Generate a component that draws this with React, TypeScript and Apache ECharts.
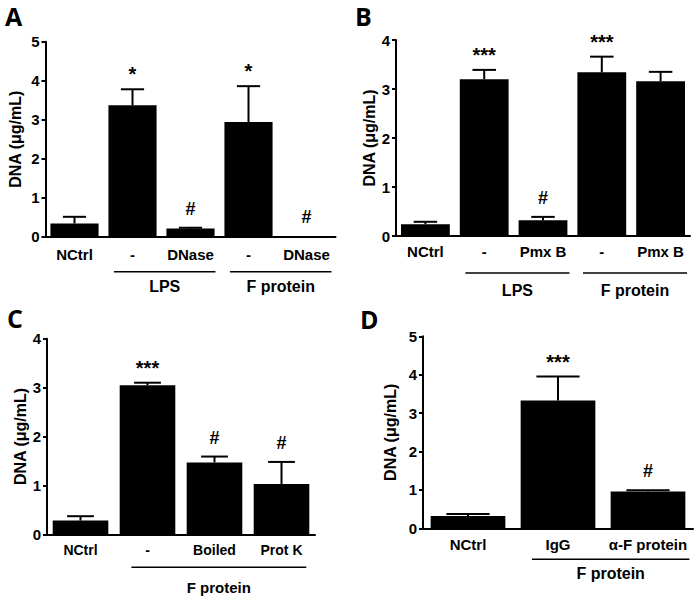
import React, { useEffect, useRef } from "react";
import * as echarts from "echarts";

// ---------- Data ----------
// Panel A
const catsA = ["NCtrl", "-", "DNase", "-", "DNase"];
const meanA = [0.34, 3.37, 0.21, 2.94, 0.02];
const upperA = [0.51, 3.78, 0.23, 3.86, 0.02];
const sigA = ["", "*", "#", "*", "#"];
const groupNamesA = ["LPS", "F protein"];
const groupSpansA = [[1, 2], [3, 4]];
const yMaxA = 5;

// Panel B
const catsB = ["NCtrl", "-", "Pmx B", "-", "Pmx B"];
const meanB = [0.24, 3.2, 0.32, 3.34, 3.16];
const upperB = [0.29, 3.39, 0.39, 3.66, 3.35];
const sigB = ["", "***", "#", "***", ""];
const groupNamesB = ["LPS", "F protein"];
const groupSpansB = [[1, 2], [3, 4]];
const yMaxB = 4;

// Panel C
const catsC = ["NCtrl", "-", "Boiled", "Prot K"];
const meanC = [0.28, 3.05, 1.47, 1.03];
const upperC = [0.37, 3.1, 1.59, 1.48];
const sigC = ["", "***", "#", "#"];
const groupNamesC = ["F protein"];
const groupSpansC = [[1, 3]];
const yMaxC = 4;

// Panel D
const catsD = ["NCtrl", "IgG", "α-F protein"];
const meanD = [0.32, 3.33, 0.96];
const upperD = [0.37, 3.95, 0.99];
const sigD = ["", "***", "#"];
const groupNamesD = ["F protein"];
const groupSpansD = [[1, 2]];
const yMaxD = 5;

const panelLetters = ["A", "B", "C", "D"];
const yTitle = "DNA (μg/mL)";

const FONT = "Liberation Sans";

const panels = [
  { cats: catsA, mean: meanA, upper: upperA, sig: sigA, gNames: groupNamesA, gSpans: groupSpansA, yMax: yMaxA },
  { cats: catsB, mean: meanB, upper: upperB, sig: sigB, gNames: groupNamesB, gSpans: groupSpansB, yMax: yMaxB },
  { cats: catsC, mean: meanC, upper: upperC, sig: sigC, gNames: groupNamesC, gSpans: groupSpansC, yMax: yMaxC },
  { cats: catsD, mean: meanD, upper: upperD, sig: sigD, gNames: groupNamesD, gSpans: groupSpansD, yMax: yMaxD },
];

// ---------- Layout ----------
const layouts = [
  { left: 45.5, top: 41.7, width: 290, height: 195, catFont: 15, catMargin: 10, nameGap: 22, groupFont: 16, lineDy: 35, labelDy: 50, lineL: -0.32, lineR: 0.43, cap: 0.2, letter: [5, 16] },
  { left: 396, top: 40, width: 294, height: 196, catFont: 15, catMargin: 8, nameGap: 19, groupFont: 16, lineDy: 37, labelDy: 54, lineL: -0.32, lineR: 0.45, cap: 0.2, letter: [355, 16] },
  { left: 47, top: 338.7, width: 268, height: 195.6, catFont: 14, catMargin: 9, nameGap: 18, groupFont: 15, lineDy: 33, labelDy: 53, lineL: -0.24, lineR: 0.37, cap: 0.2, letter: [7, 317.5] },
  { left: 423, top: 336.3, width: 270, height: 192, catFont: 15, catMargin: 9, nameGap: 25, groupFont: 16, lineDy: 31, labelDy: 45, lineL: -0.29, lineR: 0.46, cap: 0.24, letter: [360, 319] },
];

function buildOption() {
  const grid: any[] = [];
  const xAxis: any[] = [];
  const yAxis: any[] = [];
  const series: any[] = [];
  const graphic: any[] = [];

  panels.forEach((p, i) => {
    const L = layouts[i];
    grid.push({ left: L.left, top: L.top, width: L.width, height: L.height });
    xAxis.push({
      type: "category",
      gridIndex: i,
      data: p.cats,
      axisLine: { lineStyle: { color: "#000", width: 2 } },
      axisTick: { show: false },
      axisLabel: {
        color: "#000",
        fontWeight: "bold",
        fontSize: L.catFont,
        fontFamily: FONT,
        margin: L.catMargin,
        interval: 0,
      },
      splitLine: { show: false },
    });
    yAxis.push({
      type: "value",
      gridIndex: i,
      min: 0,
      max: p.yMax,
      interval: 1,
      name: yTitle,
      nameLocation: "middle",
      nameRotate: 90,
      nameGap: L.nameGap,
      nameTextStyle: { color: "#000", fontWeight: "bold", fontSize: 16, fontFamily: FONT },
      axisLine: { show: true, lineStyle: { color: "#000", width: 2 } },
      axisTick: { show: true, length: 4, lineStyle: { color: "#000", width: 2 } },
      axisLabel: { color: "#000", fontWeight: "bold", fontSize: 15, fontFamily: FONT, margin: 6 },
      splitLine: { show: false },
    });
    series.push({
      type: "bar",
      xAxisIndex: i,
      yAxisIndex: i,
      data: p.mean,
      barWidth: "83%",
      itemStyle: { color: "#000" },
      silent: true,
    });
    // error bars + significance markers
    series.push({
      type: "custom",
      xAxisIndex: i,
      yAxisIndex: i,
      data: p.mean.map((m, k) => [k, m, p.upper[k]]),
      encode: { x: 0, y: [1, 2] },
      z: 5,
      silent: true,
      renderItem: (params: any, api: any) => {
        const k = api.value(0);
        const base = api.coord([k, api.value(1)]);
        const top = api.coord([k, api.value(2)]);
        const band = api.size([1, 0])[0];
        const half = band * L.cap;
        const children: any[] = [];
        if (api.value(2) > api.value(1)) {
          children.push({
            type: "line",
            shape: { x1: base[0], y1: base[1], x2: top[0], y2: top[1] },
            style: { stroke: "#000", lineWidth: 2 },
          });
          children.push({
            type: "line",
            shape: { x1: top[0] - half, y1: top[1], x2: top[0] + half, y2: top[1] },
            style: { stroke: "#000", lineWidth: 2 },
          });
        }
        const s = p.sig[params.dataIndex];
        if (s) {
          const isHash = s === "#";
          children.push({
            type: "text",
            x: top[0],
            y: top[1] - (isHash ? 10 : 5),
            style: {
              text: s,
              fill: "#000",
              fontSize: isHash ? 18 : 20,
              fontWeight: "bold",
              fontFamily: FONT,
              align: "center",
              verticalAlign: "bottom",
            },
          });
        }
        return { type: "group", children };
      },
    });
    // group brackets
    series.push({
      type: "custom",
      xAxisIndex: i,
      yAxisIndex: i,
      data: p.gSpans.map((s) => [s[0], 0, s[1]]),
      encode: { x: [0, 2], y: 1 },
      clip: false,
      silent: true,
      renderItem: (params: any, api: any) => {
        const a = api.coord([api.value(0), 0]);
        const b = api.coord([api.value(2), 0]);
        const band = api.size([1, 0])[0];
        const x1 = a[0] + L.lineL * band;
        const x2 = b[0] + L.lineR * band;
        const y0 = a[1];
        return {
          type: "group",
          children: [
            {
              type: "line",
              shape: { x1, y1: y0 + L.lineDy, x2, y2: y0 + L.lineDy },
              style: { stroke: "#000", lineWidth: 1.5 },
            },
            {
              type: "text",
              x: (x1 + x2) / 2,
              y: y0 + L.labelDy,
              style: {
                text: p.gNames[params.dataIndex],
                fill: "#000",
                fontSize: L.groupFont,
                fontWeight: "bold",
                fontFamily: FONT,
                align: "center",
                verticalAlign: "middle",
              },
            },
          ],
        };
      },
    });
    graphic.push({
      type: "text",
      x: L.letter[0],
      y: L.letter[1],
      style: {
        text: panelLetters[i],
        fill: "#000",
        fontSize: 25,
        fontWeight: "bold",
        fontFamily: "Open Sans",
        align: "left",
        verticalAlign: "middle",
      },
    });
  });

  return {
    animation: false,
    backgroundColor: "#fff",
    grid,
    xAxis,
    yAxis,
    series,
    graphic,
  };
}

export default function App() {
  const ref = useRef<HTMLDivElement>(null);
  useEffect(() => {
    if (!ref.current) return;
    const chart = echarts.init(ref.current, undefined, { renderer: "svg" });
    chart.setOption(buildOption() as any);
    return () => chart.dispose();
  }, []);
  return (
    <div
      ref={ref}
      style={{ position: "absolute", left: 0, top: 0, width: 700, height: 602 }}
    />
  );
}
